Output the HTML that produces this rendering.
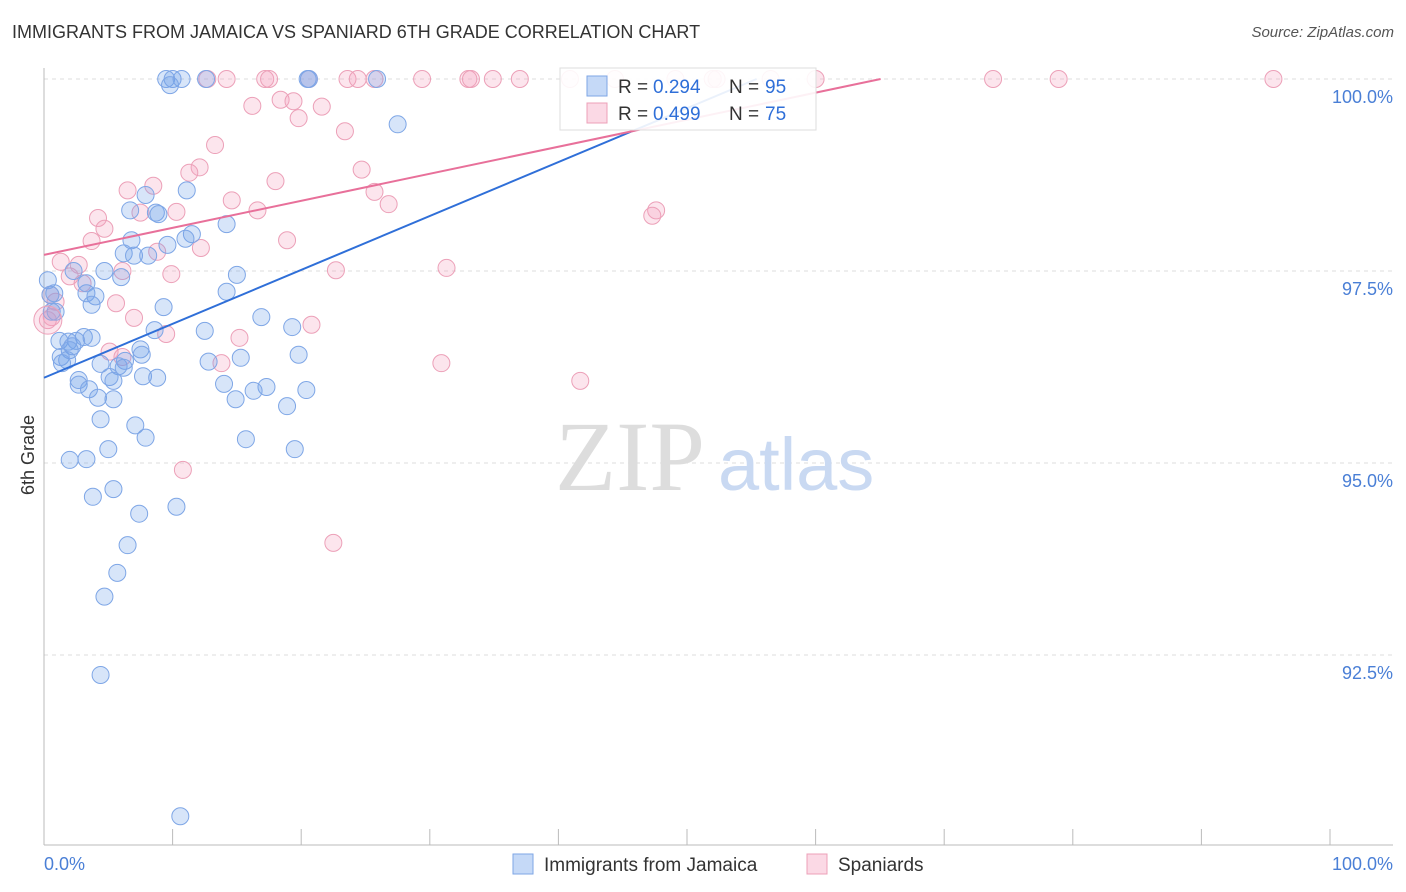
<!DOCTYPE html>
<html><head><meta charset="utf-8">
<style>
body{margin:0;background:#fff;font-family:"Liberation Sans",sans-serif;}
#wrap{position:relative;width:1406px;height:892px;overflow:hidden;}
.t{position:absolute;white-space:nowrap;}
</style></head>
<body>
<div id="wrap">
<div class="t" style="left:12px;top:22px;font-size:18px;color:#333;">IMMIGRANTS FROM JAMAICA VS SPANIARD 6TH GRADE CORRELATION CHART</div>
<div class="t" style="right:12px;top:24px;font-size:15px;color:#555;font-style:italic;">Source: ZipAtlas.com</div>
<svg id="svg" width="1406" height="892" style="position:absolute;left:0;top:0"></svg>
</div>
<script>
const jamX=[9.5,10.0,10.7,9.8,12.6,20.5,20.6,25.9,27.5,11.1,7.9,6.7,8.7,8.9,14.2,6.8,11.5,11.0,9.6,6.2,7.0,8.1,4.7,6.0,15.0,0.3,2.3,0.8,3.3,4.0,3.3,0.5,3.7,9.3,14.2,0.9,16.9,19.3,8.6,12.5,3.1,3.7,1.2,1.9,2.5,2.2,2.0,7.5,7.6,1.3,1.8,1.4,4.4,6.3,5.8,5.1,5.4,6.2,7.7,8.8,12.8,15.3,19.8,2.7,2.7,3.5,14.0,17.3,16.3,20.4,4.2,5.4,14.9,18.9,4.4,7.1,7.9,15.7,19.5,5.0,2.0,3.3,3.8,5.4,10.3,7.4,6.5,5.7,4.7,4.4,10.6,0.6];
const jamY=[100,100,100,99.92,100,100,100,100,99.41,98.55,98.49,98.29,98.26,98.24,98.11,97.90,97.98,97.92,97.84,97.73,97.70,97.70,97.50,97.42,97.45,97.38,97.50,97.21,97.21,97.17,97.34,97.19,97.06,97.03,97.23,96.97,96.90,96.77,96.73,96.72,96.64,96.63,96.59,96.58,96.59,96.52,96.47,96.48,96.41,96.38,96.34,96.30,96.29,96.33,96.26,96.12,96.07,96.24,96.13,96.11,96.32,96.37,96.41,96.08,96.02,95.96,96.03,95.99,95.94,95.95,95.85,95.83,95.83,95.74,95.57,95.49,95.33,95.31,95.18,95.18,95.04,95.05,94.56,94.66,94.43,94.34,93.93,93.57,93.26,92.24,90.40,96.97];
const spaX=[12.7,14.2,17.2,17.5,20.6,23.6,24.4,25.7,29.4,33.0,33.2,34.9,37.0,40.9,44.4,49.1,52.0,52.3,56.5,60.0,73.8,78.9,95.6,16.2,18.4,19.4,19.8,21.6,23.4,13.3,12.1,11.3,24.7,8.5,6.5,18.0,25.7,14.6,26.8,4.2,4.7,7.5,10.3,16.6,47.6,47.3,3.7,18.9,8.8,12.2,1.3,2.7,2.0,3.0,6.1,9.9,22.7,31.3,5.6,7.0,9.5,15.2,20.8,0.5,0.9,0.6,5.1,6.1,13.8,30.9,41.7,10.8,22.5,0.3];
const spaY=[100,100,100,100,100,100,100,100,100,100,100,100,100,100,100,100,100,100,100,100,100,100,100,99.65,99.73,99.71,99.49,99.64,99.32,99.14,98.85,98.78,98.82,98.61,98.55,98.67,98.53,98.42,98.37,98.19,98.05,98.26,98.27,98.29,98.29,98.22,97.89,97.90,97.75,97.80,97.62,97.58,97.43,97.34,97.50,97.46,97.51,97.54,97.08,96.89,96.68,96.63,96.80,97.19,97.10,96.90,96.45,96.38,96.30,96.30,96.07,94.91,93.96,96.86];
const jamTrend=[96.11,0.0702];
const spaTrend=[97.71,0.0352];
const yTicks=[100,97.5,95,92.5];
const yTickLabels=["100.0%","97.5%","95.0%","92.5%"];

const X=v=>44+v*12.86;
const Y=v=>79+(100-v)/2.5*192;
const NS="http://www.w3.org/2000/svg";
const svg=document.getElementById('svg');
function mk(t,a){const e=document.createElementNS(NS,t);for(const k in a)e.setAttribute(k,a[k]);svg.appendChild(e);return e;}

yTicks.forEach((v,i)=>{
  const g=mk('line',{x1:44,x2:1393,y1:Y(v),y2:Y(v),stroke:'#ddd','stroke-dasharray':'4,4'});
  
  
  const t=mk('text',{x:1393,y:Y(v)+24,'text-anchor':'end','font-size':18,fill:'#4a7fd6','font-family':'Liberation Sans, sans-serif'});
  t.textContent=yTickLabels[i];
  
  
});
let ax=mk('line',{x1:44,x2:44,y1:68,y2:845,stroke:'#bbb'});


ax=mk('line',{x1:44,x2:1393,y1:845,y2:845,stroke:'#bbb'});


for(let i=0;i<=10;i++){
  const l=mk('line',{x1:X(i*10),x2:X(i*10),y1:829,y2:845,stroke:'#bbb'});
  
  
}
let w=mk('text',{x:555,y:490,'font-size':100,fill:'#ddd','font-family':'Liberation Serif, serif'});w.textContent='ZIP';


w=mk('text',{x:718,y:490,'font-size':74,fill:'#c9d9f2','font-family':'Liberation Sans, sans-serif'});w.textContent='atlas';



function pts(xs,ys,fill,stroke,name){
  xs.forEach((v,i)=>{
    const c=mk('circle',{cx:X(v),cy:Y(ys[i]),r:8.5,fill:fill,stroke:stroke,'stroke-width':1});
    
    
  });
}
pts(spaX,spaY,'rgba(244,160,190,0.28)','#eca0b8','spaniards-point');
pts(jamX,jamY,'rgba(110,160,235,0.28)','#7ea6e6','jamaica-point');
let big=mk('circle',{cx:X(0.3),cy:Y(96.86),r:14,fill:'rgba(244,160,190,0.25)',stroke:'#eca0b8'});



function trend(tr,col,name){
  const xEnd=Math.min(100,(100-tr[0])/tr[1]);
  const l=mk('line',{x1:X(0),y1:Y(tr[0]),x2:X(xEnd),y2:Y(tr[0]+tr[1]*xEnd),stroke:col,'stroke-width':2});
  
  
}
trend(jamTrend,'#2f6fd8','jamaica-trendline');
trend(spaTrend,'#e8709a','spaniards-trendline');

let r=mk('rect',{x:560,y:68,width:256,height:62,fill:'rgba(255,255,255,0.9)',stroke:'#ddd'});


function legRow(y,fill,stroke,rv,nv,nm){
  const s=mk('rect',{x:587,y:y-10,width:20,height:20,fill:fill,stroke:stroke});
  
  
  const parts=[[618,'R =','#333'],[653,rv,'#2f6fd8'],[729,'N =','#333'],[765,nv,'#2f6fd8']];
  parts.forEach(p=>{
    const t=mk('text',{x:p[0],y:y+7,'font-size':19,fill:p[2],'font-family':'Liberation Sans, sans-serif'});
    t.textContent=p[1];
    
    
  });
}
legRow(86,'rgba(110,160,235,0.4)','#7ea6e6','0.294','95','jamaica');
legRow(113,'rgba(244,160,190,0.4)','#eca0b8','0.499','75','spaniards');

let tx=mk('text',{x:44,y:870,'font-size':18,fill:'#4a7fd6','font-family':'Liberation Sans, sans-serif'});tx.textContent='0.0%';


tx=mk('text',{x:1393,y:870,'text-anchor':'end','font-size':18,fill:'#4a7fd6','font-family':'Liberation Sans, sans-serif'});tx.textContent='100.0%';


tx=mk('text',{x:34,y:455,'font-size':18,fill:'#333','font-family':'Liberation Sans, sans-serif',transform:'rotate(-90 34 455)','text-anchor':'middle'});tx.textContent='6th Grade';


let s=mk('rect',{x:513,y:854,width:20,height:20,fill:'rgba(110,160,235,0.4)',stroke:'#7ea6e6'});


tx=mk('text',{x:544,y:871,'font-size':19,fill:'#333','font-family':'Liberation Sans, sans-serif'});tx.textContent='Immigrants from Jamaica';


s=mk('rect',{x:807,y:854,width:20,height:20,fill:'rgba(244,160,190,0.4)',stroke:'#eca0b8'});


tx=mk('text',{x:838,y:871,'font-size':19,fill:'#333','font-family':'Liberation Sans, sans-serif'});tx.textContent='Spaniards';


</script>
</body></html>
